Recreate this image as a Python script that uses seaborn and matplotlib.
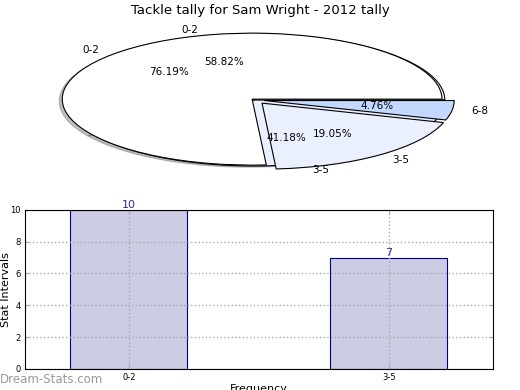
import matplotlib
matplotlib.use('Agg')
import matplotlib.pyplot as plt
import seaborn as sns
import pandas as pd

# data
title = 'Tackle tally for Sam Wright - 2012 tally'
pie1_labels = ['0-2', '3-5']
pie1_values = [58.82, 41.18]
pie2_labels = ['0-2', '3-5', '6-8']
pie2_values = [76.19, 19.05, 4.76]
bar_categories = ['0-2', '3-5']
bar_values = [10, 7]

fig = plt.figure(figsize=(5.2, 3.9), dpi=100)
fig.suptitle(title, fontsize=9.5, y=0.99)

# pies (stretched, not equal aspect)
ax_pie = fig.add_axes([0.0337, 0.532, 0.913, 0.423])
ax_pie.pie(pie1_values, labels=pie1_labels, autopct='%1.2f%%',
           shadow={'ox': -0.022, 'oy': -0.012, 'shade': 0.5},
           colors=['white', '#eaf0ff'],
           wedgeprops={'edgecolor': 'black', 'linewidth': 0.8},
           textprops={'fontsize': 7.5})
ax_pie.pie(pie2_values, labels=pie2_labels, autopct='%1.2f%%',
           explode=(0.02, 0.06, 0.05),
           colors=['white', '#eaf0ff', '#c4d8ff'],
           wedgeprops={'edgecolor': 'black', 'linewidth': 0.8},
           textprops={'fontsize': 7.5})
ax_pie.set_xlim(-1.25, 1.25)
ax_pie.set_ylim(-1.25, 1.25)
ax_pie.set_aspect('auto')
ax_pie.axis('off')

# bars
ax_bar = fig.add_axes([0.048, 0.054, 0.9, 0.408])
df = pd.DataFrame({'interval': bar_categories, 'count': bar_values})
sns.barplot(data=df, x='interval', y='count', ax=ax_bar, width=0.45,
            color='#ccccE4', saturation=1, edgecolor='#000080', linewidth=0.8)
ax_bar.set_xlim(-0.4, 1.4)
ax_bar.set_ylim(0, 10)
ax_bar.set_yticks(range(0, 11, 2))
ax_bar.tick_params(axis='both', labelsize=6, direction='in', length=3,
                   color='#aaaaaa', top=True, right=True, pad=3)
ax_bar.grid(True, linestyle=':', color='#aaaaaa', linewidth=1)
for s in ax_bar.spines.values():
    s.set_color('black')
    s.set_linewidth(0.8)
ax_bar.set_ylabel('Stat Intervals', fontsize=8)
ax_bar.yaxis.set_label_coords(-0.029, 0.5)
ax_bar.set_xlabel('Frequency', fontsize=8)
ax_bar.xaxis.set_label_coords(0.5, -0.094)
for i, v in enumerate(bar_values):
    ax_bar.text(i, v, str(v), ha='center', va='bottom', fontsize=8,
                color='#2a2a9a')

fig.text(0.0, 0.0115, 'Dream-Stats.com', fontsize=8.5, color='#999999',
         ha='left', va='bottom')

fig.savefig('out.png', dpi=100)
